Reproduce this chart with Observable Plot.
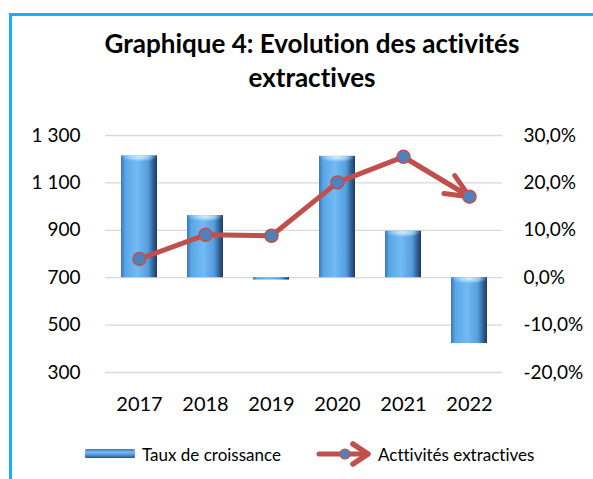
<!DOCTYPE html>
<html>
<head>
<meta charset="utf-8">
<script src="https://cdn.jsdelivr.net/npm/d3@7"></script>
<script src="https://cdn.jsdelivr.net/npm/@observablehq/plot@0.6"></script>
<style>
  html, body { margin: 0; padding: 0; background: #fff; }
  #wrap { position: relative; width: 593px; height: 479px; overflow: hidden; font-family: Lato, "Open Sans", sans-serif; color: #000; font-variant-ligatures: none; font-feature-settings: "liga" 0, "clig" 0; }
  #wrap svg text { font-variant-ligatures: none; }
  #frame { position: absolute; left: 9px; top: 13px; width: 700px; height: 600px; border-left: 3px solid #14b2f0; border-top: 3px solid #14b2f0; box-sizing: border-box; }
  #title { position: absolute; left: 0; width: 624px; top: 26px; text-align: center; font-weight: bold; font-size: 26px; line-height: 34px; white-space: nowrap; }
  #chart { position: absolute; left: 0; top: 0; }
  .leg { position: absolute; top: 443px; height: 22px; display: flex; align-items: center; font-size: 17px; }
</style>
</head>
<body>
<div id="wrap">
  <div id="frame"></div>
  <div id="title">Graphique 4: Evolution des activités<br>extractives</div>
  <div id="chart"></div>
  <div class="leg" style="left:85px">
    <svg width="51" height="14" style="margin-right:6px">
      <defs>
        <linearGradient id="legBar" x1="0" y1="0" x2="0" y2="1">
          <stop offset="0" stop-color="#3b74b0"/>
          <stop offset="0.35" stop-color="#79bdf2"/>
          <stop offset="0.7" stop-color="#4f8fcf"/>
          <stop offset="1" stop-color="#27507f"/>
        </linearGradient>
      </defs>
      <rect x="0" y="2" width="50" height="9" rx="1.5" fill="url(#legBar)"/>
    </svg>
    <span>Taux de croissance</span>
  </div>
  <div class="leg" style="left:316px">
    <svg width="56" height="28" style="margin-right:6px">
      <line x1="3" y1="14" x2="50" y2="14" stroke="#c0504d" stroke-width="5" stroke-linecap="round"/>
      <path d="M37,4 L52,14 L37,24" fill="none" stroke="#c0504d" stroke-width="5.5" stroke-linecap="round" stroke-linejoin="round"/>
      <circle cx="29" cy="14" r="5" fill="#4f81bd" stroke="#c0504d" stroke-width="1.2"/>
    </svg>
    <span>Acttivités extractives</span>
  </div>
</div>
<script>
// ---- data ----
const years = ["2017", "2018", "2019", "2020", "2021", "2022"];
const activites = [779, 881, 877, 1102, 1210, 1042];       // left axis
const croissance = [25.7, 13.1, -0.5, 25.6, 9.8, -13.9];   // % (right axis)
const leftTicks = [300, 500, 700, 900, 1100, 1300];
const rightTickLabels = ["-20,0%", "-10,0%", "0,0%", "10,0%", "20,0%", "30,0%"];
// right axis alignment: 0% sits on 700 of the left axis, 10% spans 200 units
const pctZero = 700;
const pctUnit = 20;

const rows = years.map((y, i) => ({year: y, act: activites[i], g: croissance[i]}));
const lastSeg = [{y1: rows[4].year, v1: rows[4].act, y2: rows[5].year, v2: rows[5].act}];
const capRows = rows.filter(d => Math.abs(d.g) > 3);
const capUnits = 42; // highlight depth on the top face of each bar

const chart = Plot.plot({
  width: 593,
  height: 430,
  marginLeft: 105,
  marginRight: 91,
  marginTop: 135,
  marginBottom: 58,
  style: {fontSize: "19px", fontFamily: "Lato, 'Open Sans', sans-serif", color: "#000", background: "transparent"},
  x: {domain: years, paddingInner: 0.46, paddingOuter: 0.23},
  y: {domain: [300, 1300]},
  marks: [
    Plot.gridY(leftTicks, {stroke: "#d9d9d9", strokeOpacity: 1, strokeWidth: 1.3}),
    Plot.barY(rows, {x: "year", y1: pctZero, y2: d => pctZero + d.g * pctUnit, fill: "url(#barGrad)"}),
    Plot.barY(capRows, {x: "year",
      y1: d => Math.max(pctZero, pctZero + d.g * pctUnit),
      y2: d => Math.max(pctZero, pctZero + d.g * pctUnit) - capUnits,
      fill: "url(#capGrad)"}),
    Plot.line(rows, {x: "year", y: "act", stroke: "#c0504d", strokeWidth: 5, strokeLinejoin: "round", strokeLinecap: "round"}),
    Plot.arrow(lastSeg, {x1: "y1", y1: "v1", x2: "y2", y2: "v2", stroke: "#c0504d", strokeWidth: 5, headAngle: 48, strokeLinecap: "round"}),
    Plot.dot(rows, {x: "year", y: "act", r: 6.5, fill: "#4f81bd", stroke: "#c0504d", strokeWidth: 1.5}),
    Plot.axisY(leftTicks, {anchor: "left", tickSize: 0, tickPadding: 25, label: null,
      tickFormat: d => d3.format(",")(d).replace(",", " ")}),
    Plot.axisY(leftTicks, {anchor: "right", tickSize: 0, tickPadding: 21, label: null,
      tickFormat: d => rightTickLabels[leftTicks.indexOf(d)]}),
    Plot.axisX({tickSize: 0, tickPadding: 24, label: null, fontSize: 20})
  ]
});

const ns = "http://www.w3.org/2000/svg";
const defs = document.createElementNS(ns, "defs");
defs.innerHTML = `<linearGradient id="barGrad" x1="0" y1="0" x2="1" y2="0">
  <stop offset="0" stop-color="#3a78b8"/>
  <stop offset="0.12" stop-color="#5aa6e6"/>
  <stop offset="0.45" stop-color="#72bbf4"/>
  <stop offset="0.75" stop-color="#559ddd"/>
  <stop offset="0.9" stop-color="#2f5f92"/>
  <stop offset="1" stop-color="#1e3b5e"/>
</linearGradient>
<radialGradient id="capGrad" cx="0.5" cy="0.15" r="0.5">
  <stop offset="0" stop-color="#d4effe" stop-opacity="1"/>
  <stop offset="0.55" stop-color="#a9dbfb" stop-opacity="0.75"/>
  <stop offset="1" stop-color="#8ccbf7" stop-opacity="0"/>
</radialGradient>`;
chart.insertBefore(defs, chart.firstChild);
document.getElementById("chart").appendChild(chart);
</script>
</body>
</html>
